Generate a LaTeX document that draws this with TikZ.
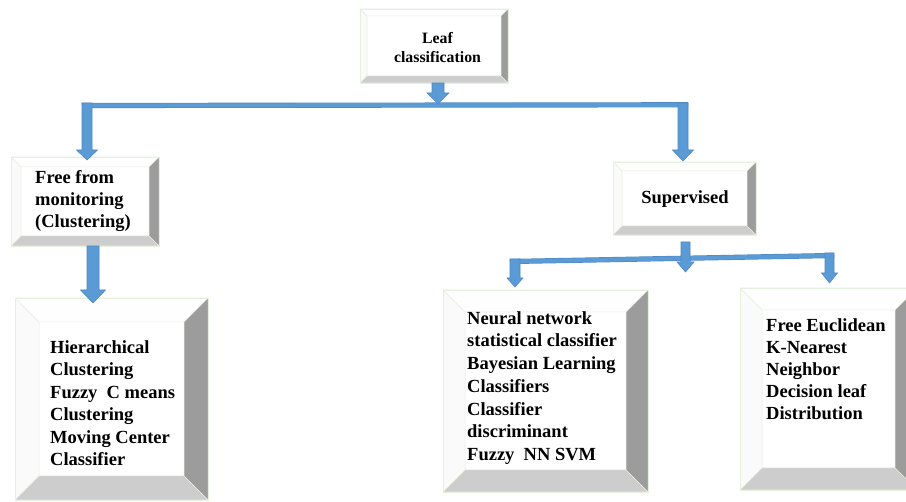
\documentclass[tikz,border=0pt]{standalone}
\usepackage{fontspec}
\setmainfont{Liberation Serif}
\usetikzlibrary{calc}
\definecolor{arrowblue}{HTML}{5B9BD5}
\definecolor{arrowedge}{HTML}{4F88C4}
\definecolor{bevedge}{HTML}{E6F0DF}
\definecolor{bevright}{HTML}{9C9C9C}
\definecolor{bevbottom}{HTML}{CDCDCD}
\definecolor{bevleft}{HTML}{FAFAFA}
\definecolor{bevtop}{HTML}{FEFEFE}
\tikzset{
  bevelbox/.style={rectangle, draw=bevedge, line width=0.7pt, fill=white, inner sep=0pt,
    path picture={
      \path (path picture bounding box.north west) coordinate (bNW)
            (path picture bounding box.north east) coordinate (bNE)
            (path picture bounding box.south west) coordinate (bSW)
            (path picture bounding box.south east) coordinate (bSE);
      \filldraw[draw=bevedge, line width=0.5pt, fill=bevtop]
        (bNW) -- (bNE) -- ($(bNE)+(-#1,#1)$) -- ($(bNW)+(#1,#1)$) -- cycle;
      \filldraw[draw=bevedge, line width=0.5pt, fill=bevleft]
        (bNW) -- ($(bNW)+(#1,#1)$) -- ($(bSW)+(#1,-#1)$) -- (bSW) -- cycle;
      \filldraw[draw=bevedge, line width=0.5pt, fill=bevright]
        (bNE) -- (bSE) -- ($(bSE)+(-#1,-#1)$) -- ($(bNE)+(-#1,#1)$) -- cycle;
      \filldraw[draw=bevedge, line width=0.5pt, fill=bevbottom]
        (bSW) -- (bSE) -- ($(bSE)+(-#1,-#1)$) -- ($(bSW)+(#1,-#1)$) -- cycle;
    }},
  boxtext/.style={inner sep=0pt, align=left, anchor=north west,
    font=\fontsize{18.5}{22.6}\selectfont\bfseries},
  arrowbody/.style={fill=arrowblue, draw=arrowedge, line width=0.6pt},
  busline/.style={draw=arrowedge, double=arrowblue, double distance=4pt, line width=0.6pt},
}
% #1 start, #2 tip, #3 half shaft, #4 half head, #5 head length
\newcommand\blockarrow[5]{%
  \filldraw[arrowbody] ($(#1)+(-#3,0)$) -- ($(#1)+(#3,0)$) -- ($(#2)+(#3,-#5)$)
    -- ($(#2)+(#4,-#5)$) -- (#2) -- ($(#2)+(-#4,-#5)$) -- ($(#2)+(-#3,-#5)$) -- cycle;}
\begin{document}
\begin{tikzpicture}[x=1pt, y=-1pt]
\useasboundingbox (0,0) rectangle (906,502);
\clip (0,0) rectangle (906,502);
\fill[white] (0,0) rectangle (906,502);

% boxes
\node[bevelbox=7, minimum width=148pt, minimum height=74pt] (leaf) at (434,46) {};
\node[bevelbox=10, minimum width=148pt, minimum height=89pt] (free) at (85,201.5) {};
\node[bevelbox=9, minimum width=143pt, minimum height=73pt] (sup) at (684.5,198.5) {};
\node[bevelbox=24, minimum width=193pt, minimum height=202pt] (hier) at (111.5,399) {};
\node[bevelbox=22, minimum width=205pt, minimum height=202pt] (neural) at (545.5,391) {};
\node[bevelbox=22, minimum width=177pt, minimum height=202pt] (eucl) at (828.5,389) {};

% texts
\node[inner sep=0pt, align=center, anchor=north, font=\fontsize{15.8}{19}\selectfont\bfseries]
  (leaftext) at (437.5,32) {Leaf\\classification};
\node[inner sep=0pt, anchor=base, font=\fontsize{18.5}{22.6}\selectfont\bfseries]
  (suptext) at (685,204) {Supervised};
\node[boxtext, font=\fontsize{18.5}{22}\selectfont\bfseries] (freetext) at (35,170.3)
  {Free from\\monitoring\\(Clustering)};
\node[boxtext, font=\fontsize{18.5}{22.4}\selectfont\bfseries] (hiertext) at (50,340.5)
  {Hierarchical\\Clustering\\Fuzzy\hspace{0.5em}C means\\Clustering\\Moving Center\\Classifier};
\node[boxtext, font=\fontsize{18.5}{22.75}\selectfont\bfseries] (neuraltext) at (467,311)
  {Neural network\\statistical classifier\\Bayesian Learning\\Classifiers\\Classifier\\discriminant\\Fuzzy\hspace{0.5em}NN SVM};
\node[boxtext, font=\fontsize{18.5}{22}\selectfont\bfseries] (eucltext) at (766,318.5)
  {Free Euclidean\\K-Nearest\\Neighbor\\Decision leaf\\Distribution};

% connector coordinates
\coordinate (leafout) at (438,83);
\coordinate (bustop) at (438,104);
\coordinate (busLline) at (82,105.5);
\coordinate (busRline) at (688,104.8);
\coordinate (busL) at (87,103);
\coordinate (busR) at (683,103);
\coordinate (freein) at (87,160);
\coordinate (supin) at (683,161);
\coordinate (freeout) at (93,246);
\coordinate (hierin) at (93,303);
\coordinate (supout) at (685.5,242);
\coordinate (bus2mid) at (685.5,272);
\coordinate (bus2Lline) at (510,261.5);
\coordinate (bus2Rline) at (834,255.5);
\coordinate (bus2L) at (515,259);
\coordinate (bus2R) at (829.5,253);
\coordinate (neuralin) at (515,287);
\coordinate (euclin) at (829.5,283);

% bus lines
\draw[busline] (busLline) -- (busRline);
\draw[busline] (bus2Lline) -- (bus2Rline);

% block arrows
\blockarrow{leafout}{bustop}{6}{11}{11}
\blockarrow{busL}{freein}{5}{10.5}{10}
\blockarrow{busR}{supin}{5}{10.5}{11}
\blockarrow{freeout}{hierin}{6}{12.5}{13}
\blockarrow{supout}{bus2mid}{4.5}{8.5}{10}
\blockarrow{bus2L}{neuralin}{5}{8}{9}
\blockarrow{bus2R}{euclin}{4.5}{8}{10}
\end{tikzpicture}
\end{document}
